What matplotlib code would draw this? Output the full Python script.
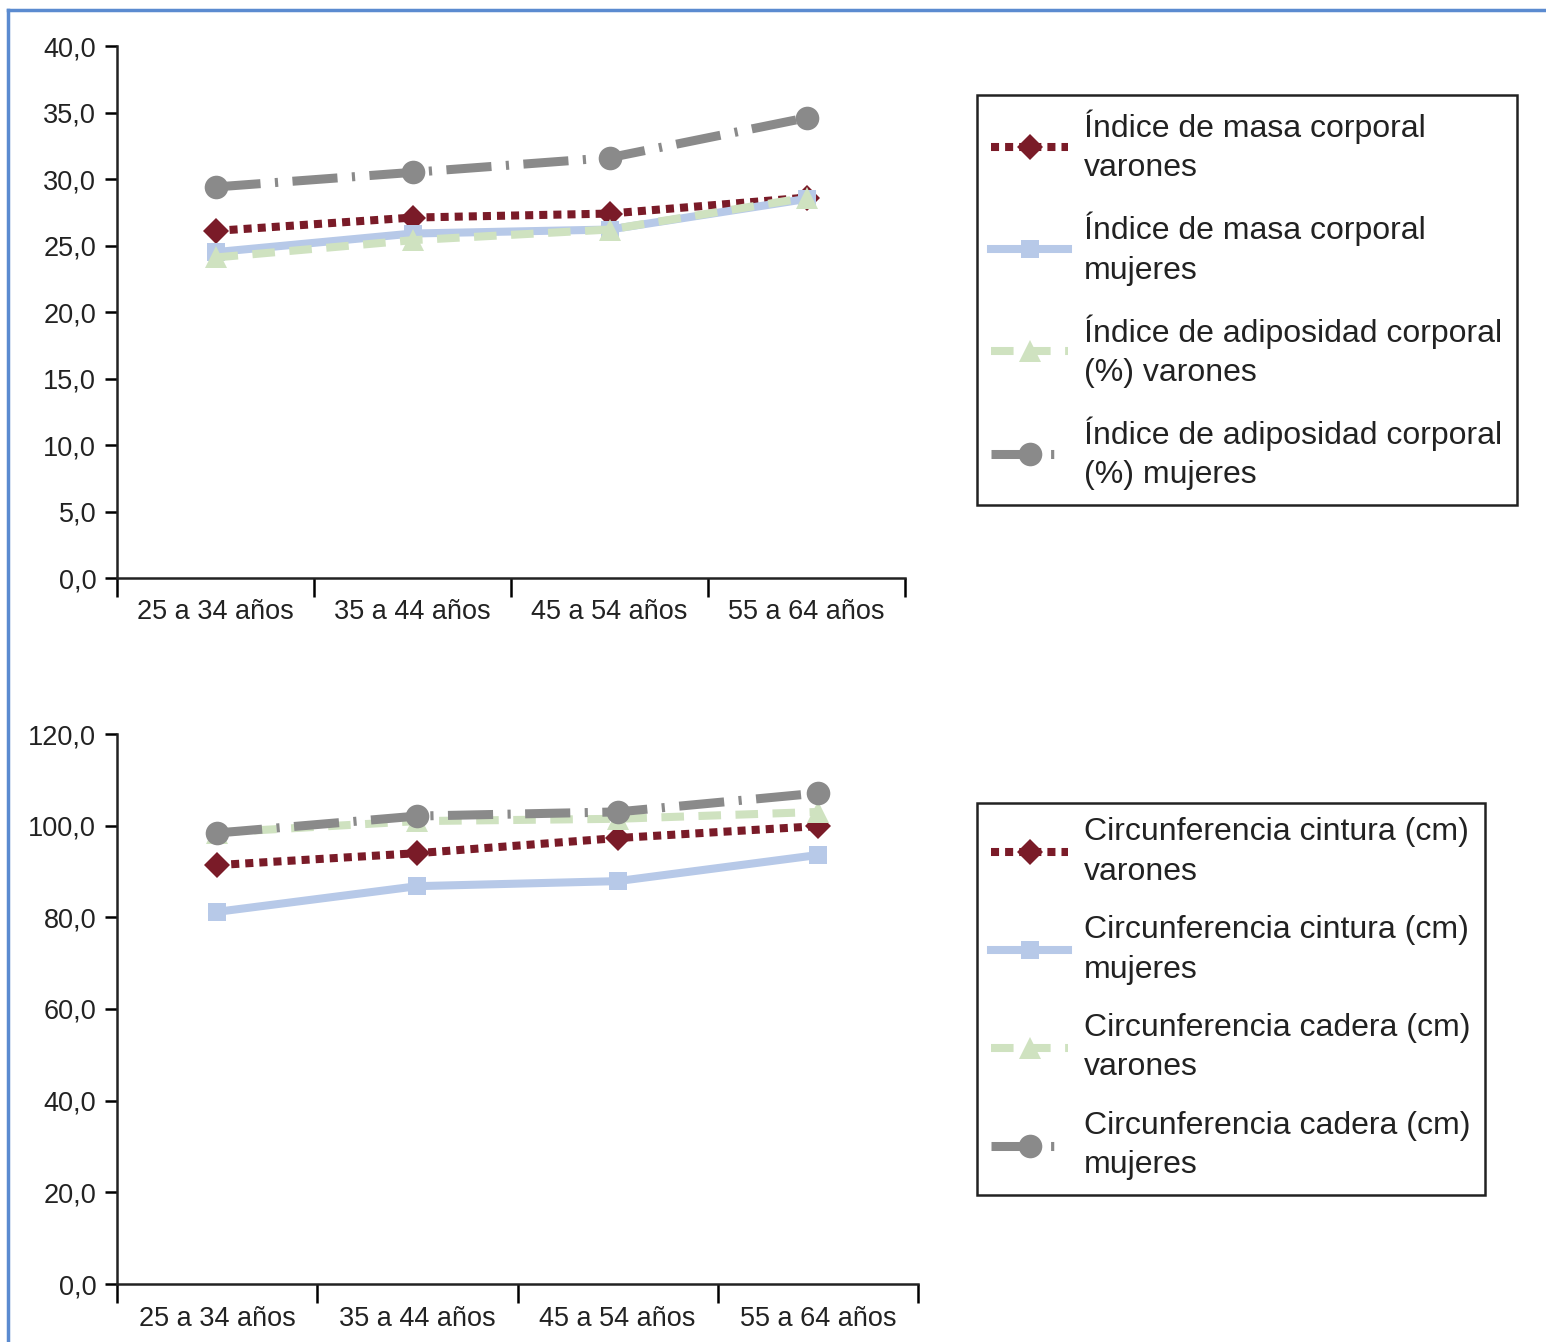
import matplotlib
matplotlib.use('Agg')
import matplotlib.pyplot as plt
from matplotlib.lines import Line2D
from matplotlib.ticker import FixedLocator, FuncFormatter

plt.rcParams['font.family'] = ['Liberation Sans', 'DejaVu Sans']

# datos
grupos = ['25 a 34 años', '35 a 44 años', '45 a 54 años', '55 a 64 años']

imc_varones = [26.1, 27.1, 27.4, 28.6]
imc_mujeres = [24.5, 25.9, 26.2, 28.5]
iac_varones = [24.1, 25.4, 26.2, 28.6]
iac_mujeres = [29.4, 30.5, 31.6, 34.6]

cint_varones = [91.4, 94.0, 97.3, 99.9]
cint_mujeres = [81.2, 86.8, 87.9, 93.6]
cad_varones = [98.5, 101.0, 101.5, 103.0]
cad_mujeres = [98.4, 102.1, 103.0, 107.1]

etiq_sup = ['Índice de masa corporal\nvarones', 'Índice de masa corporal\nmujeres',
            'Índice de adiposidad corporal\n(%) varones', 'Índice de adiposidad corporal\n(%) mujeres']
etiq_inf = ['Circunferencia cintura (cm)\nvarones', 'Circunferencia cintura (cm)\nmujeres',
            'Circunferencia cadera (cm)\nvarones', 'Circunferencia cadera (cm)\nmujeres']

# estilos de cada serie
estilos = [
    dict(color='#7a1b28', ls=(0, (1, 0.75)), lw=5.8, marker='D', ms=13),
    dict(color='#b7c9e8', ls='-', lw=5.8, marker='s', ms=13),
    dict(color='#cfe2c0', ls=(0, (2.8, 1.8)), lw=5.8, marker='^', ms=16),
    dict(color='#8a8a8a', ls=(0, (5.0, 1.6, 0.35, 1.6)), lw=6.5, marker='o', ms=17),
]

fig = plt.figure(figsize=(15.46, 13.42), dpi=100)

# marco azul
fig.add_artist(Line2D([8 / 1546, 1], [1 - 10 / 1342] * 2, transform=fig.transFigure,
                      color='#5b8bd0', lw=2.5))
fig.add_artist(Line2D([8 / 1546] * 2, [0, 1 - 10 / 1342], transform=fig.transFigure,
                      color='#5b8bd0', lw=2.5))


def panel(rect, series, etiquetas, ymax, ystep, ley_pos, xpad):
    ax = fig.add_axes(rect)
    x = list(range(len(grupos)))
    for vals, est, lab in zip(series, estilos, etiquetas):
        ax.plot(x, vals, color=est['color'], linestyle=est['ls'], linewidth=est['lw'],
                marker=est['marker'], markersize=est['ms'], markeredgewidth=0,
                dash_capstyle='butt', label=lab)
    ax.set_xlim(-0.5, len(grupos) - 0.5)
    ax.set_ylim(0, ymax)
    ax.yaxis.set_major_locator(FixedLocator([i * ystep for i in range(int(ymax / ystep) + 1)]))
    ax.yaxis.set_major_formatter(FuncFormatter(lambda v, p: f'{v:.1f}'.replace('.', ',')))
    ax.xaxis.set_major_locator(FixedLocator([i - 0.5 for i in range(len(grupos) + 1)]))
    ax.xaxis.set_major_formatter(FuncFormatter(lambda v, p: ''))
    ax.xaxis.set_minor_locator(FixedLocator(x))
    ax.set_xticklabels(grupos, minor=True)
    ax.tick_params(axis='x', which='major', length=14, width=1.8, direction='out')
    ax.tick_params(axis='x', which='minor', length=0, pad=xpad, labelsize=19.5, labelcolor='#222222')
    ax.tick_params(axis='y', length=9, width=1.8, direction='out', pad=6,
                   labelsize=19.5, labelcolor='#222222')
    for s in ['top', 'right']:
        ax.spines[s].set_visible(False)
    for s in ['left', 'bottom']:
        ax.spines[s].set_linewidth(1.8)
        ax.spines[s].set_color('#222222')
    leg = ax.legend(loc='upper left', bbox_to_anchor=ley_pos, bbox_transform=fig.transFigure,
                    borderaxespad=0, fancybox=False, edgecolor='#222222', fontsize=23,
                    framealpha=1, handlelength=2.4, handletextpad=0.5, borderpad=0.45,
                    labelspacing=0.9, numpoints=1)
    leg.get_frame().set_linewidth(1.8)
    for t in leg.get_texts():
        t.set_color('#222222')
        t.set_linespacing(1.4)
    return ax


panel([117 / 1546, 1 - 578 / 1342, 788 / 1546, 532 / 1342],
      [imc_varones, imc_mujeres, iac_varones, iac_mujeres], etiq_sup, 40, 5,
      (977 / 1546, 1 - 95 / 1342), 15)
panel([117 / 1546, 1 - 1284 / 1342, 801 / 1546, 550 / 1342],
      [cint_varones, cint_mujeres, cad_varones, cad_mujeres], etiq_inf, 120, 20,
      (977 / 1546, 1 - 803 / 1342), 16)

fig.savefig('out.png', dpi=100)
